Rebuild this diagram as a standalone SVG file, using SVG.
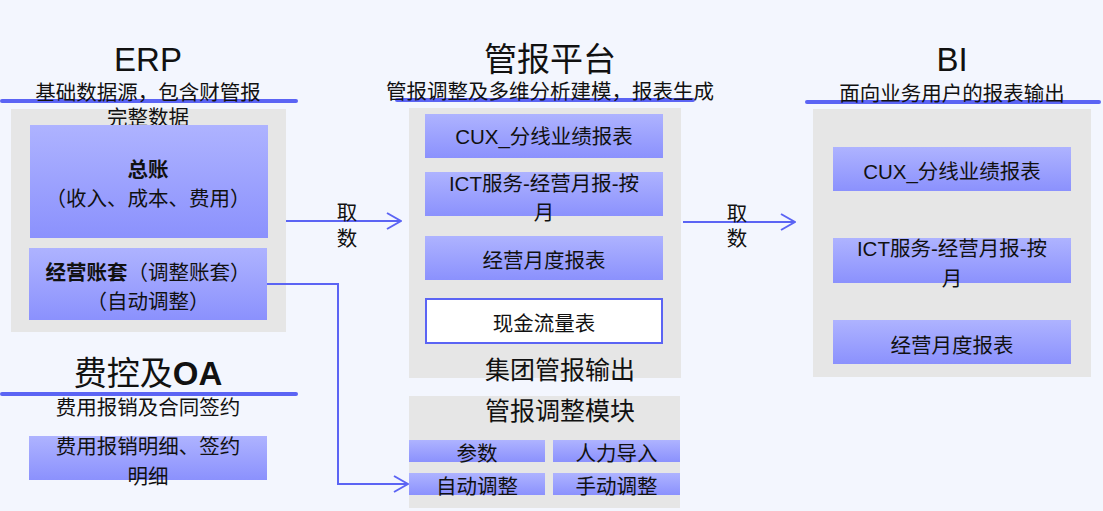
<svg xmlns="http://www.w3.org/2000/svg" width="1103" height="511" viewBox="0 0 1103 511">
<defs>
<linearGradient id="g" x1="0" y1="0" x2="0" y2="1">
<stop offset="0" stop-color="#aeb3ff"/>
<stop offset="1" stop-color="#8b91fd"/>
</linearGradient>
<marker id="arr" viewBox="0 0 16 20" refX="15" refY="10" markerWidth="16" markerHeight="20" markerUnits="userSpaceOnUse" orient="auto">
<path d="M1,2 L15,10 L1,18" fill="none" stroke="#5b64f4" stroke-width="2"/>
</marker>
<style>
text{font-family:"Liberation Sans","Noto Sans CJK SC",sans-serif;fill:#111;text-anchor:middle}
.t{font-size:33px}
.s{font-size:20.5px}
.m{font-size:25px}
.b{font-weight:bold}
.gray{fill:#e6e6e6}
.box{fill:url(#g)}
.hl{stroke:#5b64f4;stroke-width:4;stroke-linecap:round;fill:none}
.c{stroke:#5b64f4;stroke-width:2;fill:none}
</style>
</defs>
<rect width="1103" height="511" fill="#f3f6fe"/>

<g id="erp">
<text class="t" x="148" y="71">ERP</text>
<rect class="gray" x="11" y="109" width="275" height="223"/>
<line class="hl" x1="2" y1="101" x2="296" y2="101"/>
<text class="s" x="148" y="99.5">基础数据源，包含财管报</text>
<text class="s" x="148" y="124.5">完整数据</text>
</g>
<g id="zongzhang">
<rect class="box" x="30" y="125" width="238" height="113"/>
<text class="s b" x="148" y="176.5">总账</text>
<text class="s" x="148" y="205.5">（收入、成本、费用）</text>
</g>
<g id="jingying">
<rect class="box" x="29" y="248" width="238" height="72"/>
<text class="s" x="148" y="279.5"><tspan class="b">经营账套</tspan>（调整账套）</text>
<text class="s" x="148" y="308.5">（自动调整）</text>
</g>

<g id="feikong">
<text class="t" x="148" y="384.5">费控及<tspan class="b">OA</tspan></text>
<line class="hl" x1="2" y1="394" x2="296" y2="394"/>
<text class="s" x="148" y="414.5">费用报销及合同签约</text>
</g>
<g id="feiyong">
<rect class="box" x="29" y="436" width="238" height="44"/>
<text class="s" x="148" y="453.5">费用报销明细、签约</text>
<text class="s" x="148" y="483.5">明细</text>
</g>

<g id="guanbao">
<text class="t" x="550" y="71">管报平台</text>
<rect class="gray" x="409" y="108" width="272" height="270"/>
<line class="hl" x1="397" y1="100" x2="693" y2="100"/>
<text class="s" x="550" y="98.5">管报调整及多维分析建模，报表生成</text>
<text class="m" x="560" y="379">集团管报输出</text>
</g>
<g id="gb-cux">
<rect class="box" x="425" y="114" width="238" height="44"/>
<text class="s" x="544" y="143.5">CUX_分线业绩报表</text>
</g>
<g id="gb-ict">
<rect class="box" x="425" y="172" width="238" height="44"/>
<text class="s" x="544" y="190.5">ICT服务-经营月报-按</text>
<text class="s" x="544" y="219.5">月</text>
</g>
<g id="gb-jy">
<rect class="box" x="425" y="236" width="238" height="44"/>
<text class="s" x="544" y="267.5">经营月度报表</text>
</g>
<g id="gb-xj">
<rect x="426" y="299" width="236" height="44" fill="#fff" stroke="#5b64f4" stroke-width="2"/>
<text class="s" x="544" y="330.5">现金流量表</text>
</g>

<g id="tiaozheng">
<rect class="gray" x="409" y="396" width="271" height="112"/>
<text class="m" x="560" y="420">管报调整模块</text>
</g>
<g id="canshu">
<rect class="box" x="409" y="440" width="136" height="22"/>
<text class="s" x="477" y="460.5">参数</text>
</g>
<g id="renli">
<rect class="box" x="553" y="440" width="127" height="22"/>
<text class="s" x="616.5" y="460.5">人力导入</text>
</g>
<g id="zidong">
<rect class="box" x="409" y="473" width="136" height="22"/>
<text class="s" x="477" y="493.5">自动调整</text>
</g>
<g id="shoudong">
<rect class="box" x="553" y="473" width="127" height="22"/>
<text class="s" x="616.5" y="493.5">手动调整</text>
</g>

<g id="bi">
<text class="t" x="952" y="71">BI</text>
<rect class="gray" x="813" y="109" width="278" height="268"/>
<line class="hl" x1="807" y1="102" x2="1099" y2="102"/>
<text class="s" x="952" y="100.5">面向业务用户的报表输出</text>
</g>
<g id="bi-cux">
<rect class="box" x="833" y="147" width="238" height="44"/>
<text class="s" x="952" y="178.5">CUX_分线业绩报表</text>
</g>
<g id="bi-ict">
<rect class="box" x="833" y="238" width="238" height="45"/>
<text class="s" x="952" y="255.5">ICT服务-经营月报-按</text>
<text class="s" x="952" y="285.5">月</text>
</g>
<g id="bi-jy">
<rect class="box" x="833" y="320" width="238" height="44"/>
<text class="s" x="952" y="352.5">经营月度报表</text>
</g>

<g id="connectors">
<path class="c" d="M286,221 L401,221" marker-end="url(#arr)"/>
<text class="s" x="347" y="219.5">取</text>
<text class="s" x="347" y="245.5">数</text>
<path class="c" d="M683,222 L795,222" marker-end="url(#arr)"/>
<text class="s" x="737" y="220.5">取</text>
<text class="s" x="737" y="245.5">数</text>
<path class="c" d="M267,284 L338,284 L338,484 L408,484" marker-end="url(#arr)"/>
</g>
</svg>
